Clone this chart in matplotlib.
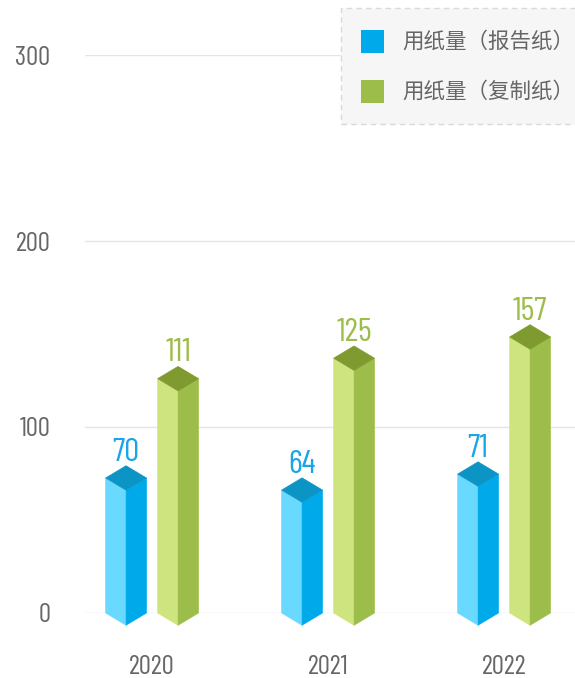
import matplotlib
matplotlib.use('Agg')
import matplotlib.pyplot as plt
from matplotlib.patches import Polygon, Rectangle

# ---- data ----
years = ['2020', '2021', '2022']
report_paper = [70, 64, 71]          # 用纸量（报告纸）labels
copy_paper = [111, 125, 157]         # 用纸量（复制纸）labels
report_height = [72.6, 66.1, 74.7]   # drawn bar heights
copy_height = [126, 137, 148.4]
legend_labels = ['用纸量（报告纸）', '用纸量（复制纸）']
yticks = [0, 100, 200, 300]

NUM_FONT = ['Barlow Condensed', 'DejaVu Sans']
CJK_FONT = ['Noto Sans CJK SC', 'DejaVu Sans']

blue = dict(left='#6ad9fe', right='#00a9ea', top='#0c95c4', label='#1aa6e6')
green = dict(left='#cde47f', right='#9dbd4a', top='#7f9a2e', label='#9dbd4a')

W, H = 575, 678
fig = plt.figure(figsize=(W / 100, H / 100), dpi=100)
ax_left, ax_right, ax_top, ax_bot = 85, 575, 55, 613
ax = fig.add_axes([ax_left / W, (H - ax_bot) / H, (ax_right - ax_left) / W, (ax_bot - ax_top) / H])
ax.set_ylim(0, 300)
xlo, xhi = -0.381, 2.403
ax.set_xlim(xlo, xhi)

xpx = (xhi - xlo) / (ax_right - ax_left)
ypx = 300 / (ax_bot - ax_top)

hw = 20.5 * xpx
dy = 12.3 * ypx
offset = 26 * xpx


def prism(xc, h, c):
    left = [(xc - hw, 0), (xc, -dy), (xc, h - dy), (xc - hw, h)]
    right = [(xc, -dy), (xc + hw, 0), (xc + hw, h), (xc, h - dy)]
    top = [(xc - hw, h), (xc, h + dy), (xc + hw, h), (xc, h - dy)]
    for pts, col in ((left, c['left']), (right, c['right']), (top, c['top'])):
        ax.add_patch(Polygon(pts, closed=True, facecolor=col, edgecolor=col,
                             linewidth=0.4, clip_on=False, zorder=3))


for i in range(len(years)):
    for xc, h, lab, c in ((i - offset, report_height[i], report_paper[i], blue),
                          (i + offset, copy_height[i], copy_paper[i], green)):
        prism(xc, h, c)
        ax.text(xc, h + dy + 5 * ypx, str(lab), ha='center', va='baseline',
                fontsize=24, color=c['label'], family=NUM_FONT, zorder=4)

ax.set_yticks(yticks)
ax.set_yticklabels([str(v) for v in yticks], family=NUM_FONT, fontsize=19.5, color='#666666')
ax.set_xticks(range(len(years)))
ax.set_xticklabels(years, family=NUM_FONT, fontsize=19.5, color='#666666')
ax.tick_params(axis='y', length=0, pad=25)
ax.tick_params(axis='x', length=0, pad=30)
ax.grid(axis='y', color='#e4e4e4', linewidth=1, zorder=0)
ax.set_axisbelow(True)
for s in ax.spines.values():
    s.set_visible(False)

# ---- legend ----
def fx(px):
    return px / W


def fy(py):
    return 1 - py / H


fig.patches.append(Rectangle((fx(341), fy(124)), fx(W + 5) - fx(341), fy(8) - fy(124),
                             transform=fig.transFigure, facecolor='#f6f6f6',
                             edgecolor='#d9d9d9', linestyle=(0, (4, 3)), linewidth=1,
                             zorder=5))
for k, (lab, c) in enumerate(zip(legend_labels, (blue, green))):
    cy = 41.5 + 50 * k
    fig.patches.append(Rectangle((fx(361), fy(cy + 11.5)), fx(23), fy(0) - fy(23),
                                 transform=fig.transFigure, facecolor=c['right'],
                                 edgecolor='none', zorder=6))
    fig.text(fx(402), fy(cy), lab, ha='left', va='center', fontsize=15.5,
             color='#666666', family=CJK_FONT, zorder=7)

fig.savefig('out.png', dpi=100)
